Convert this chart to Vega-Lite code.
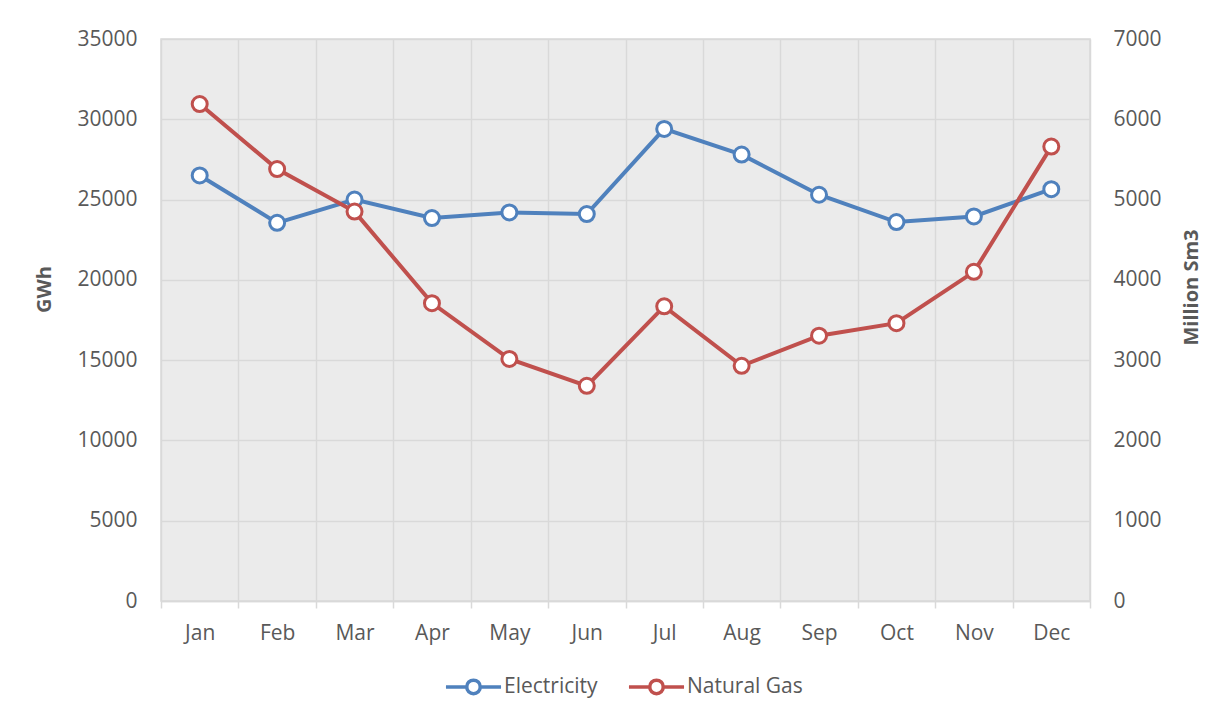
{
  "$schema": "https://vega.github.io/schema/vega-lite/v6.json",
  "width": 929,
  "height": 562,
  "autosize": {"type": "none"},
  "padding": {"left": 161, "top": 39, "right": 138, "bottom": 118},
  "background": "white",
  "config": {
    "font": "Open Sans",
    "view": {"fill": "#ebebeb", "stroke": "#d9d9d9", "strokeWidth": 1.5},
    "axis": {
      "labelColor": "#595959",
      "titleColor": "#595959",
      "labelFontSize": 21,
      "titleFontSize": 20,
      "titleFontWeight": "bold",
      "gridColor": "#d9d9d9",
      "gridWidth": 1.5,
      "domainColor": "#d9d9d9",
      "tickColor": "#d9d9d9"
    }
  },
  "data": {
    "values": [
      {"month": "Jan", "series": "Electricity", "value": 26500},
      {"month": "Feb", "series": "Electricity", "value": 23550},
      {"month": "Mar", "series": "Electricity", "value": 25000},
      {"month": "Apr", "series": "Electricity", "value": 23850},
      {"month": "May", "series": "Electricity", "value": 24200},
      {"month": "Jun", "series": "Electricity", "value": 24100},
      {"month": "Jul", "series": "Electricity", "value": 29400},
      {"month": "Aug", "series": "Electricity", "value": 27800},
      {"month": "Sep", "series": "Electricity", "value": 25300},
      {"month": "Oct", "series": "Electricity", "value": 23600},
      {"month": "Nov", "series": "Electricity", "value": 23950},
      {"month": "Dec", "series": "Electricity", "value": 25650},
      {"month": "Jan", "series": "Natural Gas", "value": 6190},
      {"month": "Feb", "series": "Natural Gas", "value": 5380},
      {"month": "Mar", "series": "Natural Gas", "value": 4850},
      {"month": "Apr", "series": "Natural Gas", "value": 3710},
      {"month": "May", "series": "Natural Gas", "value": 3015},
      {"month": "Jun", "series": "Natural Gas", "value": 2680},
      {"month": "Jul", "series": "Natural Gas", "value": 3670},
      {"month": "Aug", "series": "Natural Gas", "value": 2930},
      {"month": "Sep", "series": "Natural Gas", "value": 3305},
      {"month": "Oct", "series": "Natural Gas", "value": 3460},
      {"month": "Nov", "series": "Natural Gas", "value": 4100},
      {"month": "Dec", "series": "Natural Gas", "value": 5660}
    ]
  },
  "encoding": {
    "x": {
      "field": "month",
      "type": "ordinal",
      "sort": ["Jan", "Feb", "Mar", "Apr", "May", "Jun", "Jul", "Aug", "Sep", "Oct", "Nov", "Dec"],
      "scale": {"type": "band", "paddingInner": 0, "paddingOuter": 0},
      "axis": {
        "title": null,
        "labelAngle": 0,
        "tickBand": "extent",
        "grid": true,
        "domainWidth": 1.5,
        "tickSize": 7,
        "tickWidth": 1.5,
        "labelPadding": 14
      }
    },
    "color": {
      "field": "series",
      "type": "nominal",
      "scale": {"domain": ["Electricity", "Natural Gas"], "range": ["#4f81bd", "#c0504d"]},
      "legend": {
        "orient": "none",
        "legendX": 297,
        "legendY": 632,
        "direction": "horizontal",
        "title": null,
        "padding": 0,
        "symbolType": "M-2.04,0H-0.5M0.5,0H2.04M-0.5,0A0.5,0.5,0,1,1,0.5,0A0.5,0.5,0,1,1,-0.5,0Z",
        "symbolSize": 729,
        "symbolStrokeWidth": 3.5,
        "symbolFillColor": "white",
        "labelFontSize": 21,
        "labelColor": "#595959",
        "labelOffset": 15,
        "columnPadding": 23
      }
    }
  },
  "layer": [
    {
      "transform": [{"filter": "datum.series === 'Electricity'"}],
      "encoding": {
        "y": {
          "field": "value",
          "type": "quantitative",
          "scale": {"domain": [0, 35000], "nice": false},
          "axis": {
            "title": "GWh",
            "values": [0, 5000, 10000, 15000, 20000, 25000, 30000, 35000],
            "format": "d",
            "grid": true,
            "domain": false,
            "ticks": false,
            "tickSize": 0,
            "labelPadding": 24,
            "titleAngle": 270,
            "titleX": -117,
            "titleY": 250,
            "titleAlign": "center",
            "titleBaseline": "middle"
          }
        }
      },
      "layer": [
        {"mark": {"type": "line", "strokeWidth": 4}},
        {"mark": {"type": "point", "filled": false, "fill": "white", "size": 225, "strokeWidth": 3, "opacity": 1}}
      ]
    },
    {
      "transform": [{"filter": "datum.series === 'Natural Gas'"}],
      "encoding": {
        "y": {
          "field": "value",
          "type": "quantitative",
          "scale": {"domain": [0, 7000], "nice": false},
          "axis": {
            "title": "Million Sm3",
            "orient": "right",
            "values": [0, 1000, 2000, 3000, 4000, 5000, 6000, 7000],
            "format": "d",
            "grid": false,
            "domain": false,
            "ticks": false,
            "tickSize": 0,
            "labelPadding": 23,
            "titleAngle": 270,
            "titleX": 101,
            "titleY": 248,
            "titleAlign": "center",
            "titleBaseline": "middle"
          }
        }
      },
      "layer": [
        {"mark": {"type": "line", "strokeWidth": 4}},
        {"mark": {"type": "point", "filled": false, "fill": "white", "size": 225, "strokeWidth": 3, "opacity": 1}}
      ]
    }
  ],
  "resolve": {"scale": {"y": "independent"}}
}
